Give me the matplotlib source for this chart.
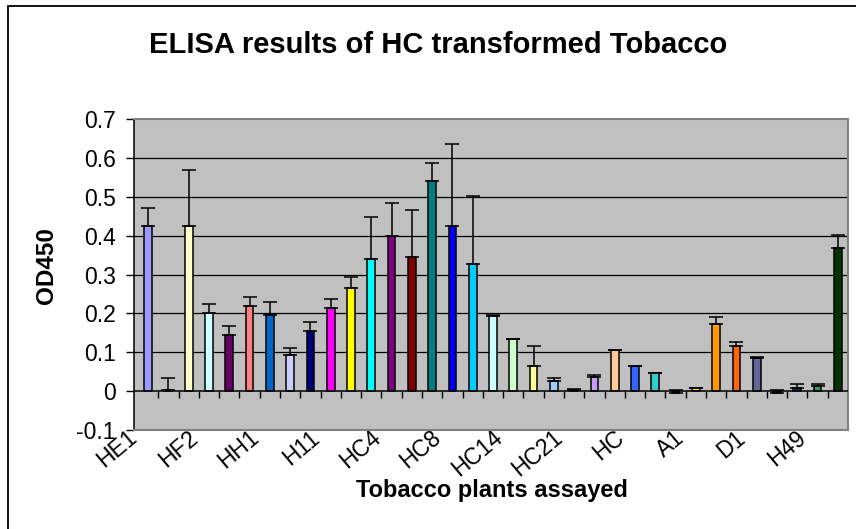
import matplotlib
matplotlib.use("Agg")
import matplotlib.pyplot as plt
from matplotlib.patches import Rectangle
import numpy as np

plt.rcParams['font.family'] = ['Liberation Sans', 'DejaVu Sans']

# ---- data ----
tick_labels = ["HE1", "HF2", "HH1", "H11", "HC4", "HC8", "HC14", "HC21", "HC", "A1", "D1", "H49"]
values = [0.424, 0.004, 0.424, 0.200, 0.144, 0.219, 0.195, 0.092, 0.154, 0.214,
          0.265, 0.340, 0.400, 0.345, 0.541, 0.424, 0.326, 0.193, 0.134, 0.064,
          0.027, 0.004, 0.037, 0.107, 0.064, 0.047, -0.006, 0.007, 0.172, 0.117,
          0.086, -0.005, 0.009, 0.014, 0.369]
errors = [0.047, 0.029, 0.145, 0.024, 0.023, 0.023, 0.033, 0.019, 0.024, 0.023,
          0.028, 0.108, 0.085, 0.121, 0.047, 0.211, 0.177, 0.002, 0.001, 0.052,
          0.006, 0.001, 0.004, 0.0, 0.0, 0.0, 0.010, 0.002, 0.019, 0.009,
          0.002, 0.009, 0.010, 0.005, 0.032]
colors = ["#9999FF", "#993366", "#FFFFCC", "#CCFFFF", "#660066", "#FF8080", "#0066CC",
          "#CCCCFF", "#000080", "#FF00FF", "#FFFF00", "#00FFFF", "#800080", "#800000",
          "#008080", "#0000FF", "#00CCFF", "#CCFFFF", "#CCFFCC", "#FFFF99", "#99CCFF",
          "#FF99CC", "#CC99FF", "#FFCC99", "#3366FF", "#33CCCC", "#99CC00", "#FFCC00",
          "#FF9900", "#FF6600", "#666699", "#969696", "#003366", "#339966", "#003300"]
yticks = [-0.1, 0, 0.1, 0.2, 0.3, 0.4, 0.5, 0.6, 0.7]

W, H = 856, 529
fig = plt.figure(figsize=(W / 100, H / 100), dpi=100)
ax = fig.add_axes([134 / W, 1 - 430 / H, (848 - 134) / W, (430 - 119) / H])
ax.set_facecolor("#C0C0C0")

n = len(values)
x = np.arange(n)
ax.set_xlim(-0.5, n - 0.5)
ax.set_ylim(-0.1, 0.7)

# grid lines
for yv in yticks[2:-1]:
    ax.axhline(yv, color="black", lw=0.9, zorder=1)

ax.bar(x, values, width=0.38, color=colors, edgecolor="black", linewidth=1.1, zorder=2)
ax.errorbar(x, values, yerr=[np.zeros(n), errors], fmt="none", ecolor="black",
            elinewidth=1.1, capsize=4.7, capthick=1.1, zorder=3)

# category axis at zero
ax.axhline(0, color="black", lw=1.1, zorder=4)
bounds = np.arange(n + 1) - 0.5
ax.vlines(bounds[1:-1], -0.018, 0, color="black", lw=1.0, zorder=4)

# spines
for s in ["top", "right", "bottom"]:
    ax.spines[s].set_color("#808080")
    ax.spines[s].set_linewidth(1.5)
ax.spines["left"].set_color("black")
ax.spines["left"].set_linewidth(1.1)

ax.set_yticks(yticks)
ax.set_yticklabels(["-0.1", "0", "0.1", "0.2", "0.3", "0.4", "0.5", "0.6", "0.7"], fontsize=16.5)
ax.tick_params(axis="y", direction="out", length=6, width=1.0, pad=7, color="black")

ax.set_xticks(x[::3] - 0.7)
ax.set_xticklabels(tick_labels, fontsize=16.5, rotation=40, ha="right", va="center",
                   rotation_mode="anchor")
ax.tick_params(axis="x", length=0, pad=3.5)

fig.text(438 / W, 1 - 53 / H, "ELISA results of HC transformed Tobacco",
         ha="center", va="baseline", fontsize=21, fontweight="bold")
fig.text(492 / W, 1 - 497 / H, "Tobacco plants assayed",
         ha="center", va="baseline", fontsize=17, fontweight="bold")
fig.text(46 / W, 1 - 266 / H, "OD450", ha="center", va="center", rotation=90,
         fontsize=17.5, fontweight="bold")

fig.patches.append(Rectangle((8 / W, -0.05), 1.2, 1 - 6 / H + 0.05, transform=fig.transFigure,
                             fill=False, edgecolor="black", lw=1.3))

fig.savefig("out.png", dpi=100)
